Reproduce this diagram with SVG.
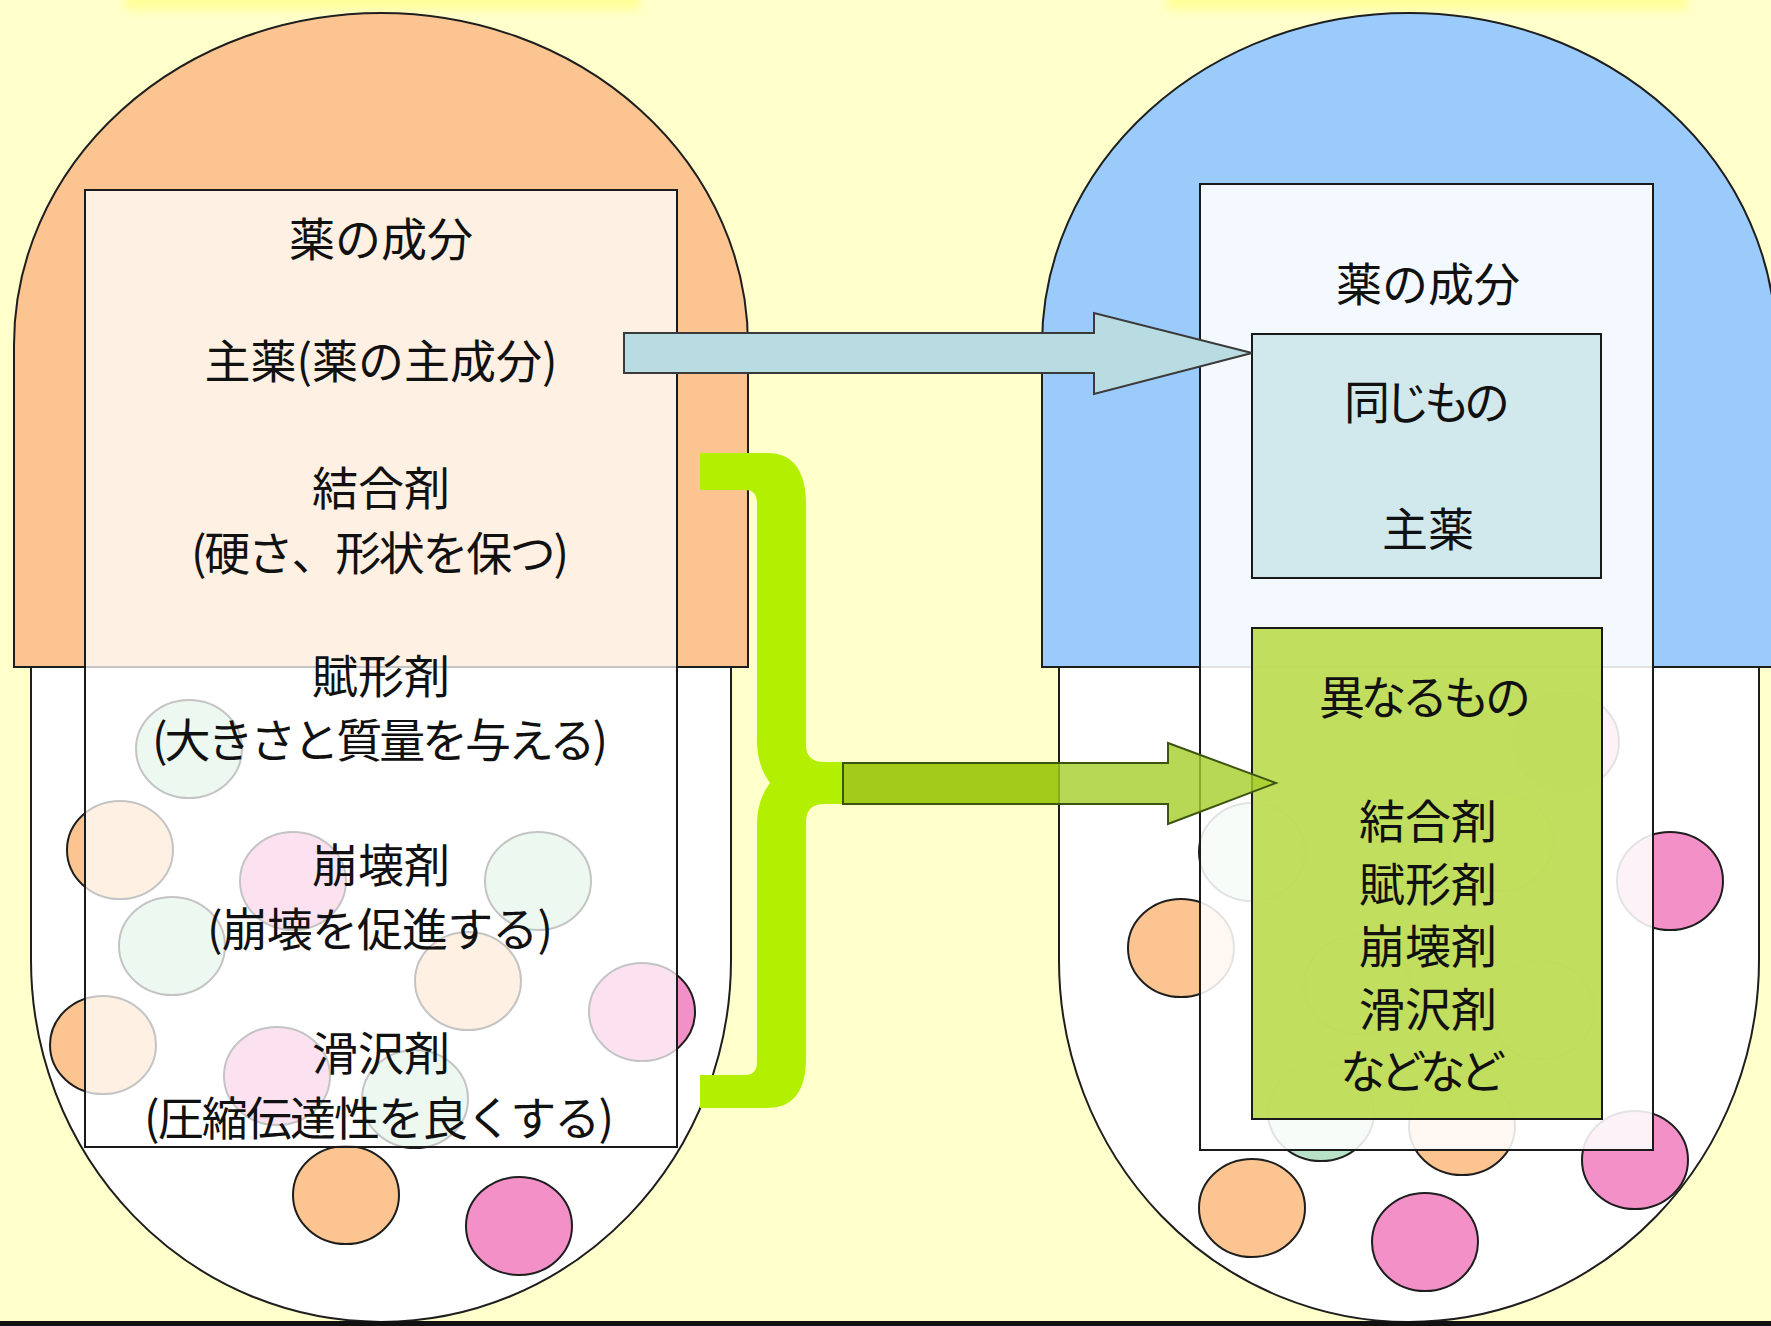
<svg xmlns="http://www.w3.org/2000/svg" width="1771" height="1326" viewBox="0 0 1771 1326">
<defs>
<style>
.cap{stroke:#1e1e1e;stroke-width:2}
.ci{stroke:#1e1e1e;stroke-width:2}
.or{fill:#FBC490}
.pk{fill:#F490C8}
.gr{fill:#B8E2C8}
.box{fill:#ffffff;stroke:#1a1a1a;stroke-width:2}
.t{font-family:"Noto Sans CJK JP","Noto Sans CJK SC",sans-serif;font-size:46px;fill:#111;text-anchor:middle;dominant-baseline:central}
</style>
<filter id="blur" x="-20%" y="-200%" width="140%" height="500%"><feGaussianBlur stdDeviation="5"/></filter>
<linearGradient id="g2" gradientUnits="userSpaceOnUse" x1="843" y1="0" x2="1276" y2="0">
<stop offset="0" stop-color="#A3CB1C"/>
<stop offset="0.496" stop-color="#A3CB1C"/>
<stop offset="0.497" stop-color="#A5CE2A" stop-opacity="0.8"/>
<stop offset="1" stop-color="#A5CE2A" stop-opacity="0.8"/>
</linearGradient>
</defs>
<rect x="0" y="0" width="1771" height="1326" fill="#FFFFCC"/>
<rect x="125" y="-10" width="515" height="20" fill="#FFFF99" filter="url(#blur)"/>
<rect x="1167" y="-10" width="520" height="20" fill="#FFFF99" filter="url(#blur)"/>

<g id="capsule-left">
<path class="cap" fill="#ffffff" d="M31,667 L31,960 A350 362 0 0 0 731,960 L731,667 Z"/>
<path class="cap" fill="#FBC490" d="M14,667 L14,345 A367 332 0 0 1 748,345 L748,667 Z"/>
<g id="particles-left">
<ellipse class="ci gr" cx="189" cy="749" rx="53" ry="49"/>
<ellipse class="ci or" cx="120" cy="850" rx="53" ry="49"/>
<ellipse class="ci pk" cx="293" cy="881" rx="53" ry="49"/>
<ellipse class="ci gr" cx="538" cy="881" rx="53" ry="49"/>
<ellipse class="ci gr" cx="172" cy="946" rx="53" ry="49"/>
<ellipse class="ci or" cx="468" cy="981" rx="53" ry="49"/>
<ellipse class="ci pk" cx="642" cy="1012" rx="53" ry="49"/>
<ellipse class="ci or" cx="103" cy="1045" rx="53" ry="49"/>
<ellipse class="ci pk" cx="277" cy="1076" rx="53" ry="49"/>
<ellipse class="ci gr" cx="415" cy="1099" rx="53" ry="49"/>
<ellipse class="ci or" cx="346" cy="1195" rx="53" ry="49"/>
<ellipse class="ci pk" cx="519" cy="1226" rx="53" ry="49"/>
</g>
</g>

<g id="box-left">
<rect class="box" x="85" y="190" width="592" height="957" fill-opacity="0.74"/>
<text class="t" x="381" y="236">薬の成分</text>
<text class="t" x="381" y="358">主薬(薬の主成分)</text>
<text class="t" x="381" y="485">結合剤</text>
<text class="t" x="380" y="550" textLength="378">(硬さ、形状を保つ)</text>
<text class="t" x="381" y="673">賦形剤</text>
<text class="t" x="380" y="737" textLength="456">(大きさと質量を与える)</text>
<text class="t" x="381" y="862">崩壊剤</text>
<text class="t" x="380" y="926" textLength="346">(崩壊を促進する)</text>
<text class="t" x="381" y="1050">滑沢剤</text>
<text class="t" x="379" y="1115" textLength="470">(圧縮伝達性を良くする)</text>
</g>

<g id="capsule-right">
<path class="cap" fill="#ffffff" d="M1059,667 L1059,960 A350 362 0 0 0 1759,960 L1759,667 Z"/>
<path class="cap" fill="#9BCBFB" d="M1042,667 L1042,345 A367 332 0 0 1 1776,345 L1776,667 Z"/>
<g id="particles-right">
<ellipse class="ci or" cx="1181" cy="948" rx="53" ry="49"/>
<ellipse class="ci pk" cx="1670" cy="881" rx="53" ry="49"/>
<ellipse class="ci pk" cx="1635" cy="1160" rx="53" ry="49"/>
<ellipse class="ci or" cx="1252" cy="1208" rx="53" ry="49"/>
<ellipse class="ci pk" cx="1425" cy="1242" rx="53" ry="49"/>
<ellipse class="ci or" cx="1462" cy="1126" rx="53" ry="49"/>
<ellipse class="ci gr" cx="1321" cy="1112" rx="53" ry="49"/>
<ellipse class="ci gr" cx="1252" cy="852" rx="53" ry="49"/>
<ellipse class="ci pk" cx="1566" cy="742" rx="53" ry="49"/>
<ellipse class="ci gr" cx="1357" cy="985" rx="53" ry="49"/>
<ellipse class="ci or" cx="1500" cy="842" rx="53" ry="49"/>
<ellipse class="ci gr" cx="1541" cy="1010" rx="53" ry="49"/>
</g>
</g>

<g id="box-right">
<rect class="box" x="1200" y="184" width="453" height="966" fill-opacity="0.88"/>
<text class="t" x="1428" y="281">薬の成分</text>
</g>

<g id="box-same">
<rect x="1252" y="334" width="349" height="244" fill="#D1E8EC" stroke="#1a1a1a" stroke-width="2"/>
<text class="t" x="1427" y="399" textLength="166">同じもの</text>
<text class="t" x="1428" y="526">主薬</text>
</g>

<g id="box-different">
<rect x="1252" y="628" width="350" height="491" fill="#BCDB52" fill-opacity="0.93" stroke="#1a1a1a" stroke-width="2"/>
<text class="t" x="1425" y="694" textLength="212">異なるもの</text>
<text class="t" x="1428" y="818">結合剤</text>
<text class="t" x="1428" y="880.5">賦形剤</text>
<text class="t" x="1428" y="943">崩壊剤</text>
<text class="t" x="1428" y="1005.5">滑沢剤</text>
<text class="t" x="1423" y="1068" textLength="166">などなど</text>
</g>

<g id="connectors">
<path id="brace" fill="#B3EF00" d="M700,453 L767,453 Q806,453 806,505 L806,745 Q806,762 824,762 L843,762 L843,804 L824,804 Q806,804 806,822 L806,1058 Q806,1108 767,1108 L700,1108 L700,1075 L745,1075 Q757,1075 757,1062 L757,825 Q757,800 770,783 Q757,766 757,740 L757,503 Q757,490 745,490 L700,490 Z"/>
<polygon id="arrow-main" points="624,333 1094,333 1094,313 1252,353 1094,394 1094,373 624,373" fill="#B8DCE2" stroke="#3a3a3a" stroke-width="2" stroke-linejoin="miter"/>
<polygon id="arrow-other" points="843,763 1168,763 1168,743 1276,783 1168,824 1168,804 843,804" fill="url(#g2)" stroke="#3d5410" stroke-width="2"/>
</g>

<rect x="0" y="1321" width="1771" height="5" fill="#111111"/>
</svg>
